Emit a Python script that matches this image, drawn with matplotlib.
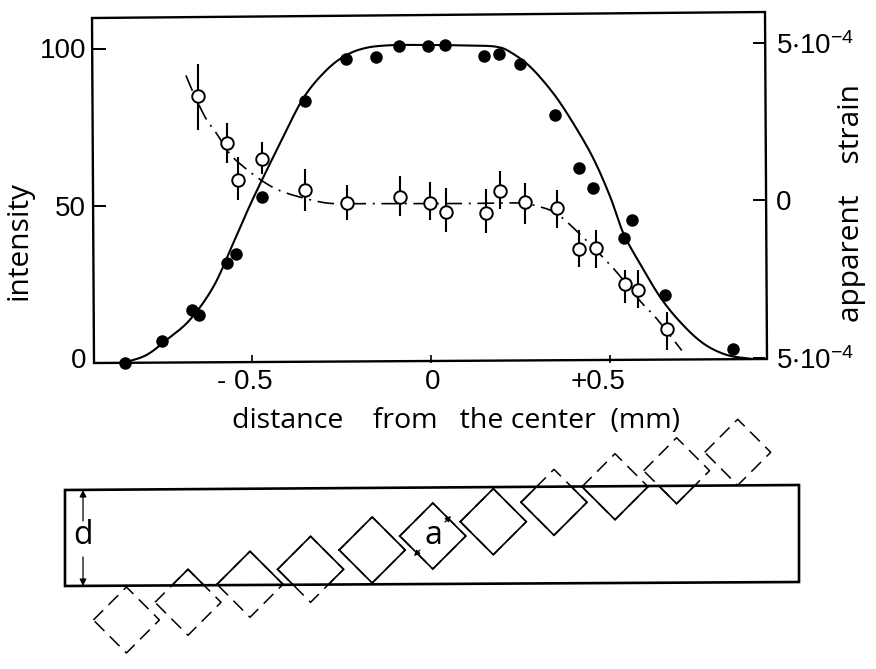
import matplotlib
matplotlib.use("Agg")
import matplotlib.pyplot as plt
from matplotlib.patches import Polygon
from matplotlib.path import Path
from matplotlib.transforms import ScaledTranslation
import numpy as np

plt.rcParams['font.family'] = ['Open Sans', 'DejaVu Sans']
TICKFONT = ['Liberation Sans', 'DejaVu Sans']
plt.rcParams['mathtext.fontset'] = 'custom'
plt.rcParams['mathtext.rm'] = 'Liberation Sans'
plt.rcParams['mathtext.default'] = 'regular'

# intensity (filled circles)
int_x = [-0.856, -0.753, -0.668, -0.649, -0.570, -0.547, -0.474, -0.354, -0.239, -0.155, -0.090,
         -0.011, 0.039, 0.147, 0.188, 0.247, 0.346, 0.413, 0.450, 0.538, 0.560, 0.651, 0.842]
int_y = [0, 6.9, 16.8, 15, 31.8, 34.5, 52.8, 83.3, 96.7, 97.5, 101,
         101, 101.4, 97.8, 98.5, 95.2, 79, 62, 55.6, 39.7, 45.4, 21.4, 4.3]

# intensity fit curve (solid)
fit_x = [-0.856, -0.796, -0.740, -0.675, -0.609, -0.554, -0.498, -0.423, -0.358, -0.293, -0.237, -0.181, -0.116,
         -0.06, 0.0, 0.06, 0.12, 0.182, 0.219, 0.275, 0.340, 0.396, 0.452, 0.499, 0.536, 0.582, 0.638, 0.694, 0.759, 0.825, 0.890]
fit_y = [0, 2.4, 7.2, 13.6, 24.2, 38, 52.4, 69.9, 84.3, 93.3, 98.1, 100.4, 101.2,
         101.3, 101.3, 101.2, 101.1, 100.7, 99.1, 94.4, 85.9, 76.3, 65.1, 52.9, 41.2, 31.6, 21, 13, 6.1, 2.4, 1.2]

# apparent strain in units of 1e-4 (open circles)
str_x = [-0.651, -0.571, -0.541, -0.474, -0.354, -0.235, -0.088, -0.004, 0.041, 0.152, 0.191,
         0.260, 0.351, 0.413, 0.459, 0.541, 0.578, 0.659]
str_y = [3.31, 1.84, 0.66, 1.31, 0.33, -0.08, 0.11, -0.09, -0.36, -0.41, 0.29,
         -0.06, -0.23, -1.55, -1.51, -2.66, -2.84, -4.09]
str_hi = [4.33, 2.46, 1.38, 1.87, 0.99, 0.49, 0.79, 0.58, 0.39, 0.37, 0.93,
          0.55, 0.34, -0.95, -0.95, -2.21, -2.22, -3.55]
str_lo = [2.23, 1.18, 0.02, 0.84, -0.32, -0.63, -0.50, -0.63, -1.01, -1.04, -0.28,
          -0.76, -0.87, -2.11, -2.13, -3.26, -3.41, -4.76]

# strain guide curve (dash-dot)
guide_x = [-0.686, -0.670, -0.633, -0.600, -0.563, -0.526, -0.474, -0.423, -0.358, -0.293, -0.237,
           -0.15, -0.05, 0.05, 0.15, 0.247, 0.289, 0.350, 0.424, 0.461, 0.517, 0.582, 0.629, 0.699]
guide_y = [3.97, 3.54, 2.66, 2.12, 1.48, 1.08, 0.63, 0.31, 0.08, -0.08, -0.10,
           -0.10, -0.10, -0.10, -0.09, -0.08, -0.16, -0.42, -1.17, -1.59, -2.27, -3.18, -3.75, -4.76]

xticks = [-0.5, 0, 0.5]
xticklabels = ['- 0.5', '0', '+0.5']
yticks = [0, 50, 100]
strain_ticks = [-5, 0, 5]
strain_labels = [r'$5{\cdot}10^{-4}$', '0', r'$5{\cdot}10^{-4}$']

# lower sketch and frame outlines, in image pixels
box_x = [65, 799, 799, 65]
box_y = [490, 485, 582, 586]
frame_x = [92, 765, 767, 94]
frame_y = [18, 12, 359, 363]
diamond_cx = [126.4, 188, 250, 310.6, 372.2, 432.8, 493.3, 554, 615, 676.6, 737.7]
diamond_cy = [620, 602.3, 584.3, 569.3, 550, 536, 521.7, 502.3, 486.7, 470.7, 452.3]
diamond_r = 33


def smooth(x, y, n=12):
    """Catmull-Rom pen path through the read knots, for drawing only."""
    p = np.column_stack([x, y])
    p = np.vstack([2*p[0]-p[1], p, 2*p[-1]-p[-2]])
    t = np.linspace(0, 1, n, endpoint=False)[:, None]
    out = []
    for i in range(1, len(p)-2):
        a, b, c, d = p[i-1], p[i], p[i+1], p[i+2]
        out.append(0.5*(2*b + (c-a)*t + (2*a-5*b+4*c-d)*t**2 + (3*b-a-3*c+d)*t**3))
    out.append(p[-2][None, :])
    q = np.vstack(out)
    return q[:, 0], q[:, 1]


W, H = 876, 669
fig = plt.figure(figsize=(W/100, H/100), dpi=100)

sk = fig.add_axes([0, 0, 1, 1])
sk.set_xlim(0, W)
sk.set_ylim(H, 0)
sk.axis('off')

box_xy = list(zip(box_x, box_y))
outer = [(0, 0), (W, 0), (W, H), (0, H), (0, 0)]
inner = box_xy + [box_xy[0]]
inside_clip = Polygon(box_xy, closed=True, transform=sk.transData)
outside_path = Path(outer + inner,
                    [Path.MOVETO] + [Path.LINETO]*3 + [Path.CLOSEPOLY] +
                    [Path.MOVETO] + [Path.LINETO]*3 + [Path.CLOSEPOLY])
for cx, cy in zip(diamond_cx, diamond_cy):
    xs = [cx - diamond_r, cx, cx + diamond_r, cx, cx - diamond_r]
    ys = [cy, cy - diamond_r, cy, cy + diamond_r, cy]
    solid, = sk.plot(xs, ys, color='k', lw=1.2, solid_joinstyle='miter')
    solid.set_clip_path(inside_clip)
    dashed, = sk.plot(xs, ys, color='k', lw=1.1, dashes=(9, 5))
    dashed.set_clip_path(outside_path, sk.transData)
sk.add_patch(Polygon(box_xy, closed=True, fill=False, ec='k', lw=1.9))
sk.add_patch(Polygon(list(zip(frame_x, frame_y)), closed=True, fill=False, ec='k', lw=1.7))

head = dict(arrowstyle='-|>', color='k', lw=0.9, mutation_scale=10, shrinkA=0, shrinkB=0)
small = dict(head, mutation_scale=8)
sk.annotate('', xy=(83, 490), xytext=(83, 521), arrowprops=head)
sk.annotate('', xy=(83, 586), xytext=(83, 557), arrowprops=head)
sk.text(83, 536, 'd', fontsize=23, ha='center', va='center')
sk.text(433, 536, 'a', fontsize=23, ha='center', va='center')
sk.annotate('', xy=(451, 516), xytext=(445, 522), arrowprops=small)
sk.annotate('', xy=(414, 556), xytext=(420, 550), arrowprops=small)

sk.text(19, 240, 'intensity', fontsize=21.5, rotation=90, ha='center', va='center')
sk.text(852, 203, 'apparent    strain', fontsize=21.5, rotation=90, ha='center', va='center')
sk.text(456, 421, 'distance    from   the center  (mm)', fontsize=20.5, ha='center', va='center')

# main axes
left, right, top, bottom = 93, 765, 17, 362.5
ax = fig.add_axes([left/W, 1 - bottom/H, (right-left)/W, (bottom-top)/H])
ax.patch.set_alpha(0)
ax.set_xlim(-0.9455, 0.9316)
ax.set_ylim(0, 110.2)
fx, fy = smooth(fit_x, fit_y)
ax.plot(fx, fy, color='k', lw=1.5, zorder=2)
ax.plot(int_x, int_y, 'o', color='k', ms=9, mew=0, zorder=3, clip_on=False)
ax.set_xticks(xticks, xticklabels, family=TICKFONT)
ax.set_yticks(yticks, [str(v) for v in yticks], family=TICKFONT)
ax.tick_params(axis='x', direction='in', length=6, width=1.2, labelsize=20, pad=5)
ax.tick_params(axis='y', direction='in', length=9, width=1.4, labelsize=20, pad=5)
for s in ax.spines.values():
    s.set_visible(False)

def nudge(label, dx, dy):
    label.set_transform(label.get_transform() + ScaledTranslation(dx/100, -dy/100, fig.dpi_scale_trans))

for lab, dx in zip(ax.get_xticklabels(), [-8, 1, -12]):
    nudge(lab, dx, 0)
for lab, dy in zip(ax.get_yticklabels(), [-5, 0, -1]):
    nudge(lab, 0, dy)

ax2 = ax.twinx()
ax2.set_ylim(-5.143, 5.825)
gx, gy = smooth(guide_x, guide_y)
ax2.plot(gx, gy, color='k', lw=1.2, dashes=(10, 4, 1.2, 4), zorder=2)
ax2.vlines(str_x, str_lo, str_hi, color='k', lw=1.5, zorder=3)
ax2.plot(str_x, str_y, 'o', mfc='white', mec='k', mew=1.4, ms=9, zorder=4)
ax2.set_yticks(strain_ticks, strain_labels, family=TICKFONT)
ax2.tick_params(axis='y', direction='in', length=9, width=1.4, labelsize=20, pad=8)
for s in ax2.spines.values():
    s.set_visible(False)

fig.savefig('out.png', dpi=100)
